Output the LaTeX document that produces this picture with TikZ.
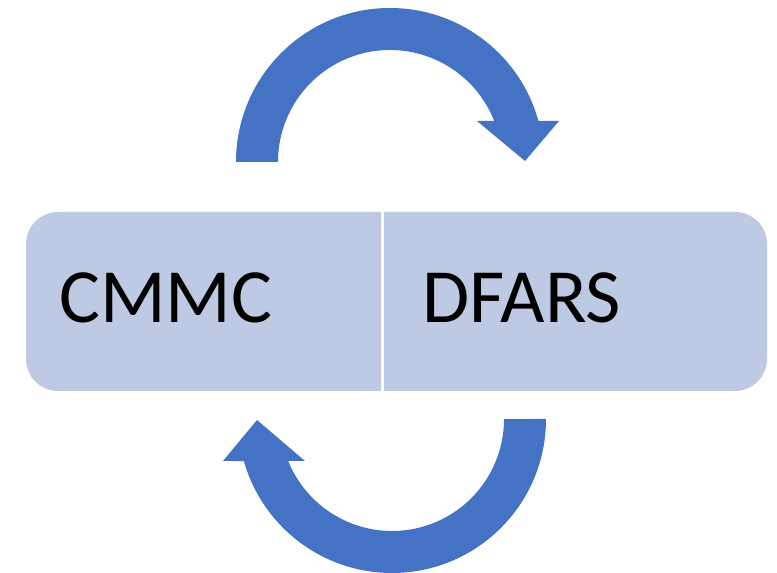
\documentclass[tikz,border=0pt]{standalone}
\usepackage{fontspec}
\setmainfont{Carlito}
\definecolor{arrowblue}{RGB}{68,114,196}
\definecolor{boxfill}{RGB}{190,201,228}
\begin{document}
\begin{tikzpicture}[x=1pt,y=1pt,
  lbl/.style={inner sep=0pt,anchor=base west,font=\fontsize{76.7}{80}\selectfont,text=black},
  boxpart/.style={fill=boxfill},
  cyclearrow/.style={fill=arrowblue}]
\useasboundingbox (0,0) rectangle (777,573);
% left half of the box
\path[boxpart] (381,182) -- (58,182) arc[start angle=270,end angle=180,radius=32]
  -- (26,329) arc[start angle=180,end angle=90,radius=32] -- (381,361) -- cycle;
% right half of the box
\path[boxpart] (384,182) -- (735,182) arc[start angle=-90,end angle=0,radius=32]
  -- (767,329) arc[start angle=0,end angle=90,radius=32] -- (384,361) -- cycle;
\node[lbl] (cmmc) at (59,250) {CMMC};
\node[lbl] (dfars) at (422.5,250) {DFARS};
% top curved arrow
\path[cyclearrow] (236,411) arc[start angle=180,end angle=15.44,radius=154]
  -- (559,452) -- (525,412) -- (477,452) -- (494.2,452)
  arc[start angle=21.47,end angle=180,radius=112] -- cycle;
% bottom curved arrow
\path[cyclearrow] (546,154) arc[start angle=0,end angle=-164.17,radius=154]
  -- (223,112) -- (257,153) -- (305,112) -- (288.2,112)
  arc[start angle=-157.98,end angle=0,radius=112] -- cycle;
\end{tikzpicture}
\end{document}
